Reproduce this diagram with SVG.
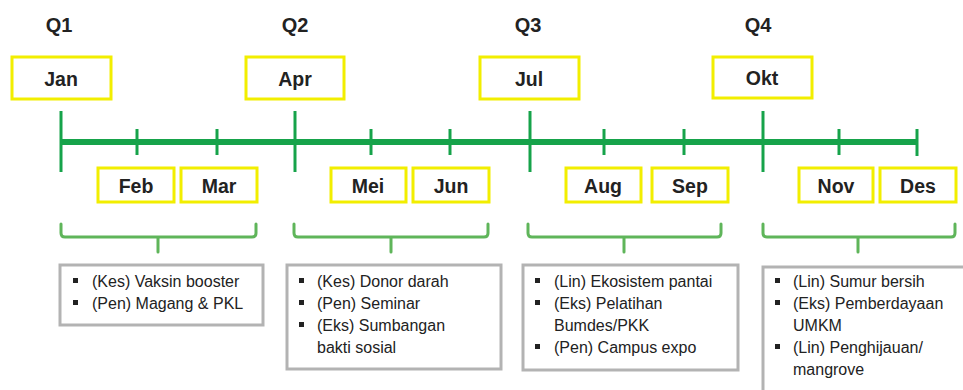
<svg xmlns="http://www.w3.org/2000/svg" width="963" height="390" viewBox="0 0 963 390">
<style>
.q{font-family:"Liberation Sans",Arial,sans-serif;font-weight:bold;font-size:20px;fill:#222;text-anchor:middle}
.m{font-family:"Liberation Sans",Arial,sans-serif;font-weight:bold;font-size:19.5px;fill:#222;text-anchor:middle}
.mb{fill:#fff;stroke:#f2ee00;stroke-width:3}
.ax{stroke:#16a34a;fill:none}
.br{stroke:#5fb55a;stroke-width:3;fill:none;stroke-linejoin:round;stroke-linecap:round}
.bx{fill:#fff;stroke:#b3b3b3;stroke-width:3}
.t{font-family:"Liberation Sans",Arial,sans-serif;font-size:16px;fill:#222}
.b{fill:#222}
</style>
<rect width="963" height="390" fill="#fff"/>
<g id="quarters">
<text class="q" x="59" y="32">Q1</text>
<text class="q" x="295" y="32">Q2</text>
<text class="q" x="528" y="32">Q3</text>
<text class="q" x="758" y="32">Q4</text>
</g>
<g id="connectors">
<line class="ax" x1="61" y1="142" x2="917" y2="142" stroke-width="6"/>
<g stroke-width="3" class="ax">
<line x1="61" y1="111" x2="61" y2="172"/>
<line x1="295" y1="111" x2="295" y2="172"/>
<line x1="530" y1="111" x2="530" y2="172"/>
<line x1="763" y1="111" x2="763" y2="172"/>
<line x1="137" y1="129" x2="137" y2="155"/>
<line x1="217" y1="129" x2="217" y2="155"/>
<line x1="371" y1="129" x2="371" y2="155"/>
<line x1="450" y1="129" x2="450" y2="155"/>
<line x1="604" y1="129" x2="604" y2="155"/>
<line x1="684" y1="129" x2="684" y2="155"/>
<line x1="839" y1="129" x2="839" y2="155"/>
<line x1="917" y1="129" x2="917" y2="156"/>
</g>
<path class="br" d="M61 224 V233 Q61 237 65 237 H252 Q256 237 256 233 V224 M158 237 V252"/>
<path class="br" d="M294 224 V233 Q294 237 298 237 H484 Q488 237 488 233 V224 M391 237 V252"/>
<path class="br" d="M528 224 V233 Q528 237 532 237 H717 Q721 237 721 233 V224 M624 237 V252"/>
<path class="br" d="M763 224 V233 Q763 237 767 237 H951 Q955 237 955 233 V224 M858 237 V252"/>
</g>
<g id="jan"><rect class="mb" x="12" y="57" width="99" height="42"/><text class="m" x="61" y="86">Jan</text></g>
<g id="apr"><rect class="mb" x="246" y="57" width="98" height="42"/><text class="m" x="295" y="86">Apr</text></g>
<g id="jul"><rect class="mb" x="480" y="57" width="99" height="42"/><text class="m" x="529" y="86">Jul</text></g>
<g id="okt"><rect class="mb" x="713" y="57" width="99" height="41"/><text class="m" x="762" y="85">Okt</text></g>
<g id="feb"><rect class="mb" x="98" y="168" width="76" height="34"/><text class="m" x="136" y="193">Feb</text></g>
<g id="mar"><rect class="mb" x="181" y="168" width="76" height="34"/><text class="m" x="219" y="193">Mar</text></g>
<g id="mei"><rect class="mb" x="331" y="168" width="75" height="34"/><text class="m" x="368" y="193">Mei</text></g>
<g id="jun"><rect class="mb" x="413" y="168" width="76" height="34"/><text class="m" x="451" y="193">Jun</text></g>
<g id="aug"><rect class="mb" x="566" y="168" width="75" height="34"/><text class="m" x="603" y="193">Aug</text></g>
<g id="sep"><rect class="mb" x="652" y="168" width="76" height="34"/><text class="m" x="690" y="193">Sep</text></g>
<g id="nov"><rect class="mb" x="799" y="168" width="74" height="34"/><text class="m" x="836" y="193">Nov</text></g>
<g id="des"><rect class="mb" x="880" y="168" width="76" height="34"/><text class="m" x="918" y="193">Des</text></g>
<g id="box-q1">
<rect class="bx" x="60" y="265" width="203" height="60"/>
<rect class="b" x="73" y="278" width="5" height="5"/><text class="t" x="92" y="287">(Kes) Vaksin booster</text>
<rect class="b" x="73" y="300" width="5" height="5"/><text class="t" x="92" y="309">(Pen) Magang &amp; PKL</text>
</g>
<g id="box-q2">
<rect class="bx" x="287" y="265" width="214" height="104"/>
<rect class="b" x="299" y="278" width="5" height="5"/><text class="t" x="317" y="287">(Kes) Donor darah</text>
<rect class="b" x="299" y="300" width="5" height="5"/><text class="t" x="317" y="309">(Pen) Seminar</text>
<rect class="b" x="299" y="322" width="5" height="5"/><text class="t" x="317" y="331">(Eks) Sumbangan</text>
<text class="t" x="317" y="353">bakti sosial</text>
</g>
<g id="box-q3">
<rect class="bx" x="523" y="265" width="215" height="105"/>
<rect class="b" x="535" y="278" width="5" height="5"/><text class="t" x="554" y="287">(Lin) Ekosistem  pantai</text>
<rect class="b" x="535" y="300" width="5" height="5"/><text class="t" x="554" y="309">(Eks) Pelatihan</text>
<text class="t" x="554" y="331">Bumdes/PKK</text>
<rect class="b" x="535" y="344" width="5" height="5"/><text class="t" x="554" y="353">(Pen) Campus expo</text>
</g>
<g id="box-q4">
<rect class="bx" x="763" y="267" width="210" height="130"/>
<rect class="b" x="775" y="278" width="5" height="5"/><text class="t" x="793" y="287">(Lin) Sumur bersih</text>
<rect class="b" x="775" y="300" width="5" height="5"/><text class="t" x="793" y="309">(Eks) Pemberdayaan</text>
<text class="t" x="793" y="331">UMKM</text>
<rect class="b" x="775" y="344" width="5" height="5"/><text class="t" x="793" y="353">(Lin) Penghijauan/</text>
<text class="t" x="793" y="375">mangrove</text>
</g>
</svg>
